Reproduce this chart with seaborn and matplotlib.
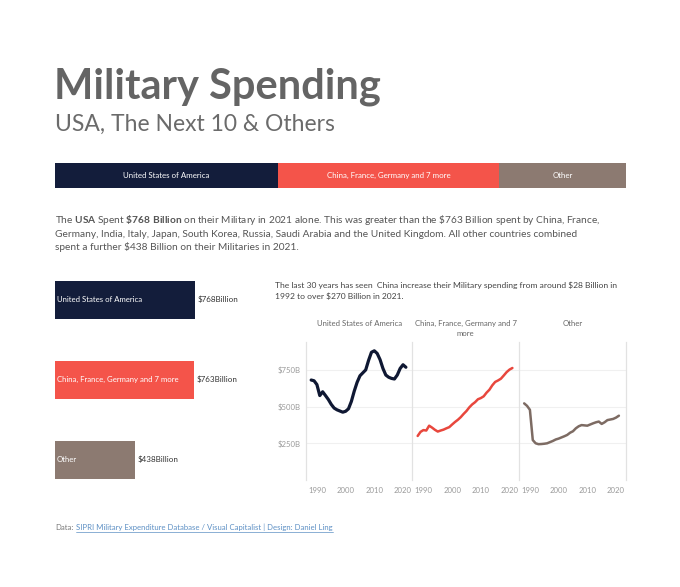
import numpy as np
import pandas as pd
import matplotlib
matplotlib.use("Agg")
import matplotlib.pyplot as plt
from matplotlib.lines import Line2D
import seaborn as sns

# ---- data ----
groups = ["United States of America", "China, France, Germany and 7 more", "Other"]
facet_titles = ["United States of America", "China, France, Germany and 7\nmore", "Other"]
totals_2021 = [768, 763, 438]  # $ Billion
value_labels = ["$768Billion", "$763Billion", "$438Billion"]

years = list(range(1988, 2022))
usa = [681, 676, 650, 575, 601, 575, 548, 515, 490, 478, 470, 462, 468, 485, 535,
       605, 665, 710, 730, 750, 815, 870, 880, 862, 820, 760, 715, 700, 692, 688,
       715, 760, 785, 768]
next10 = [300, 328, 340, 337, 370, 357, 342, 330, 337, 343, 352, 360, 378, 395, 410,
          428, 450, 470, 495, 515, 530, 550, 558, 570, 595, 615, 645, 668, 678, 690,
          712, 735, 752, 763]
other = [522, 505, 478, 272, 250, 244, 245, 247, 250, 258, 266, 276, 282, 290, 298,
         307, 322, 332, 352, 366, 374, 372, 370, 378, 386, 393, 398, 382, 393, 408,
         412, 416, 425, 438]
y_ticks = [250, 500, 750]
y_tick_labels = ["$250B", "$500B", "$750B"]
x_ticks = [1990, 2000, 2010, 2020]

bar_colors = ["#131d3b", "#f4544a", "#8c7a71"]
line_colors = ["#0f1833", "#e8473d", "#7d6b63"]

sns.set_style("white")
plt.rcParams["font.family"] = ["Lato", "DejaVu Sans"]
plt.rcParams["mathtext.fontset"] = "custom"
plt.rcParams["mathtext.rm"] = "Lato"
plt.rcParams["mathtext.bf"] = "Lato:bold"

W, H = 680, 587
fig = plt.figure(figsize=(W / 100, H / 100), dpi=100)
fig.patch.set_facecolor("white")


def box(x0, y0, x1, y1):
    # pixel box (top-left origin) -> figure fraction rect
    return [x0 / W, 1 - y1 / H, (x1 - x0) / W, (y1 - y0) / H]


def fx(px):
    return px / W


def fy(py):
    return 1 - py / H


# ---- titles ----
fig.text(fx(54), fy(99), "Military Spending", fontsize=30, fontweight="bold",
         color="#646464", va="baseline")
fig.text(fx(55), fy(131), "USA, The Next 10 & Others", fontsize=16.5,
         color="#6b6b6b", va="baseline")

# ---- stacked bar ----
ax_s = fig.add_axes(box(55, 163, 626, 188))
lefts = np.cumsum([0] + totals_2021[:-1])
ax_s.barh([0] * 3, totals_2021, left=lefts, color=bar_colors, height=1, linewidth=0)
for l, v, g in zip(lefts, totals_2021, groups):
    ax_s.text(l + v / 2, 0, g, ha="center", va="center", color="white", fontsize=5.7)
ax_s.set_xlim(0, sum(totals_2021))
ax_s.set_ylim(-0.5, 0.5)
ax_s.axis("off")

# ---- paragraph ----
para = ("The $\\mathbf{USA}$ Spent $\\mathbf{\\$768\\ Billion}$ on their Military in 2021 alone. "
        "This was greater than the \\$763 Billion spent by China, France,\n"
        "Germany, India, Italy, Japan, South Korea, Russia, Saudi Arabia and the United Kingdom. "
        "All other countries combined\n"
        "spent a further \\$438 Billion on their Militaries in 2021.")
fig.text(fx(55), fy(213), para, fontsize=7.25, color="#555555", va="top", linespacing=1.42)

# ---- left bars ----
ax_b = fig.add_axes(box(55, 259.5, 260, 499.5))
df_tot = pd.DataFrame({"group": groups, "total": totals_2021})
sns.barplot(data=df_tot, x="total", y="group", hue="group", palette=bar_colors,
            width=0.475, saturation=1, legend=False, orient="h", linewidth=0, ax=ax_b)
ax_b.set_xlim(0, 1124)
ax_b.set_ylim(2.5, -0.5)
for i, (g, v, lab) in enumerate(zip(groups, totals_2021, value_labels)):
    ax_b.text(10, i, g, ha="left", va="center", color="white", fontsize=5.6)
    ax_b.text(v + 14, i, lab, ha="left", va="center", color="#333333", fontsize=5.8)
ax_b.axis("off")

# ---- right text ----
fig.text(fx(275), fy(282), "The last 30 years has seen  China increase their Military spending "
         "from around \\$28 Billion in\n1992 to over \\$270 Billion in 2021.",
         fontsize=6.1, color="#444444", va="top", linespacing=1.45)

# ---- line panels ----
series = [usa, next10, other]
pw = 106.5
for i, (vals, col, ttl) in enumerate(zip(series, line_colors, facet_titles)):
    x0 = 306 + i * pw
    ax = fig.add_axes(box(x0, 342, x0 + pw, 480))
    d = pd.DataFrame({"year": years, "value": vals})
    sns.lineplot(data=d, x="year", y="value", color=col, linewidth=2.3 if i == 0 else 1.8, ax=ax)
    ax.set_xlim(1986.2, 2023.3)
    ax.set_ylim(0, 940)
    ax.set_xticks(x_ticks)
    ax.set_xticklabels([str(t) for t in x_ticks])
    ax.set_yticks(y_ticks)
    if i == 0:
        ax.set_yticklabels(y_tick_labels)
    else:
        ax.set_yticklabels([])
    ax.tick_params(length=0, labelsize=5.6, labelcolor="#9a9a9a", pad=5)
    ax.tick_params(axis="y", pad=4)
    ax.grid(axis="y", color="#f0f0f0", linewidth=0.8)
    ax.set_axisbelow(True)
    ax.set_xlabel("")
    ax.set_ylabel("")
    for s in ["top", "bottom", "right"]:
        ax.spines[s].set_visible(False)
    ax.spines["left"].set_color("#e2e2e2")
    ax.spines["left"].set_linewidth(0.9)
    if i == 2:
        ax.spines["right"].set_visible(True)
        ax.spines["right"].set_color("#e2e2e2")
        ax.spines["right"].set_linewidth(0.9)
    ax.patch.set_alpha(0)
    fig.text(fx(x0 + pw / 2), fy(320), ttl, ha="center", va="top", fontsize=5.6,
             color="#666666", linespacing=1.5)

# ---- footer ----
renderer = fig.canvas.get_renderer()
t0 = fig.text(fx(55), fy(530), "Data:", fontsize=5.6, color="#777777", va="baseline")
w0 = t0.get_window_extent(renderer).width
link_x = 55 + w0 + 3
t1 = fig.text(fx(link_x), fy(530),
              "SIPRI Military Expenditure Database / Visual Capitalist | Design: Daniel Ling",
              fontsize=5.6, color="#5c8fc4", va="baseline")
w1 = t1.get_window_extent(renderer).width
fig.add_artist(Line2D([fx(link_x), fx(link_x + w1)], [fy(531.5), fy(531.5)],
                      color="#5c8fc4", linewidth=0.5))

fig.savefig("out.png", dpi=100, facecolor="white")
